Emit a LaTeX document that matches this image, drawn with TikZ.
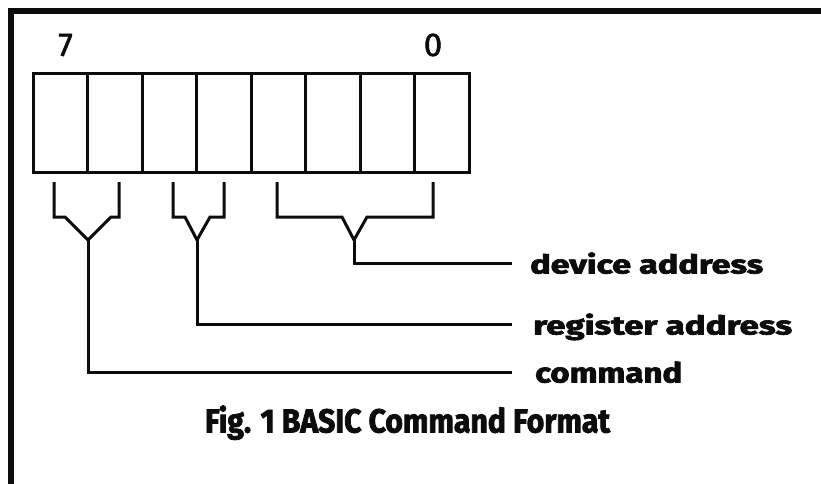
\documentclass[tikz,border=0pt]{standalone}
\definecolor{inkblack}{RGB}{12, 12, 12}
\usepackage{fontspec}
\setmainfont{Fira Sans}
\newfontfamily\heavyfont{Fira Sans Bold}[FakeBold=2.5]
\newfontfamily\bitfont{Fira Sans}[FakeBold=1.5]
\usepackage{tikz}
\usetikzlibrary{positioning, calc}
\newcommand{\fitbox}[3]{\raisebox{0pt}[#2][0pt]{\resizebox{#1}{#2}{#3}}}

\begin{document}
\begin{tikzpicture}[x=1pt, y=-1pt,
    bitcell/.style={draw=inkblack, line width=3pt, minimum width=54.5pt, minimum height=98pt, inner sep=0pt, outer sep=0pt},
    fieldbrace/.style={draw=inkblack, line width=3pt, line join=miter},
    bitnum/.style={text=inkblack, inner sep=0pt, font=\fontsize{33}{33}\bitfont},
    fieldlabel/.style={text=inkblack, anchor=west, inner sep=0pt, font=\fontsize{24}{24}\heavyfont}]
  \useasboundingbox (0,0) rectangle (821,484);
  \draw[inkblack, line width=6pt] (821,11.5) -- (10.5,11.5) -- (10.5,484);

  \foreach \b [count=\j from 0] in {7,...,0}
    \node[bitcell] (b\b) at (60.25+54.5*\j, 123) {};
  \node[bitnum] (msb) at (65.5,45) {7};
  \node[bitnum] (lsb) at (433,45) {0};

  \draw[fieldbrace] (54,182) |- (65,217) -- (88,240) coordinate (cmdtip) -- (111,217) -| (119,182);
  \draw[fieldbrace] (173,182) |- (185,217) -- (197,240) coordinate (regtip) -- (210,217) -| (224,182);
  \draw[fieldbrace] (277,182) |- (342,217) -- (354,240) coordinate (devtip) -- (367,217) -| (433,182);

  \node[fieldlabel] (dev) at (530,263) {\fitbox{233pt}{21pt}{device address}};
  \node[fieldlabel] (reg) at (533,324) {\fitbox{259pt}{21pt}{register address}};
  \node[fieldlabel] (cmd) at (535,372) {\fitbox{147pt}{21pt}{command}};

  \draw[fieldbrace] (devtip) |- ([xshift=-18pt]dev.west);
  \draw[fieldbrace] (regtip) |- ([xshift=-21pt]reg.west);
  \draw[fieldbrace] (cmdtip) |- ([xshift=-23pt]cmd.west);

  \node[text=inkblack, inner sep=0pt, font=\fontsize{30}{30}\heavyfont] (caption) at (407.5,419) {\fitbox{405pt}{27pt}{Fig. 1 BASIC Command Format}};
\end{tikzpicture}
\end{document}
